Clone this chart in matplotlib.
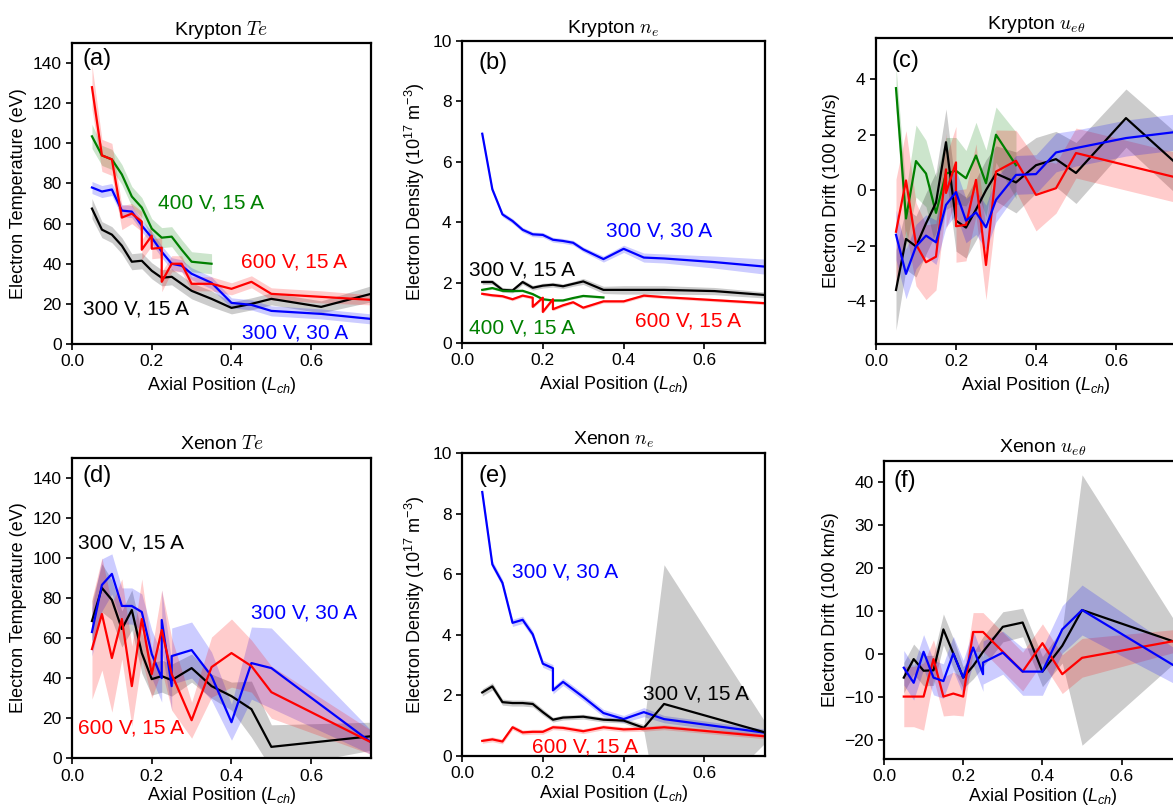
import numpy as np
import matplotlib
matplotlib.use("Agg")
import matplotlib.pyplot as plt

plt.rcParams["font.family"] = ["Liberation Sans", "DejaVu Sans"]
plt.rcParams["mathtext.fontset"] = "custom"
plt.rcParams["mathtext.rm"] = "Liberation Sans"
plt.rcParams["mathtext.it"] = "Liberation Sans:italic"
plt.rcParams["mathtext.bf"] = "Liberation Sans:bold"

# ── Data ─────────────────────────────────────────────────────────────────────
X17 = [0.05, 0.075, 0.1, 0.125, 0.15, 0.175, 0.2, 0.225, 0.25, 0.275, 0.3,
       0.35, 0.4, 0.45, 0.5, 0.625, 0.75]
X12 = [0.05, 0.075, 0.1, 0.125, 0.15, 0.175, 0.2, 0.225, 0.25, 0.275, 0.3, 0.35]
X15 = [0.05, 0.075, 0.1, 0.125, 0.15, 0.175, 0.2, 0.225, 0.25, 0.3, 0.35,
       0.4, 0.45, 0.5, 0.75]

# Krypton Te (a)
kr_te_k     = [67.5, 57, 54.5, 49, 41, 41.5, 36.5, 33, 33.5, 30, 26.5, 22.5, 18, 20, 22.5, 18.5, 25]
kr_te_k_err = [5, 4, 4, 4, 4, 4, 4, 4, 4, 4, 4, 4, 3, 3, 3, 3, 4]
kr_te_b     = [78, 76, 77, 66.5, 66, 59, 53, 46, 40, 39, 35, 30.5, 20.5, 19.5, 16.5, 15, 12.5]
kr_te_b_err = [3, 3, 3, 3, 3, 3, 3, 3, 3, 3, 3, 3, 2.5, 2.5, 2.5, 2.5, 2.5]
kr_te_r_x   = [0.05, 0.075, 0.1, 0.125, 0.15, 0.175, 0.175, 0.2, 0.2, 0.225, 0.225,
               0.25, 0.275, 0.3, 0.35, 0.4, 0.45, 0.5, 0.625, 0.75]
kr_te_r     = [128, 94, 92, 63, 65, 61, 47, 54, 47.5, 48, 31, 40, 40, 30, 30, 27.5, 31, 25, 23.5, 22]
kr_te_r_err = [11, 8, 8, 6, 5, 5, 5, 5, 5, 5, 5, 4, 4, 3.5, 3.5, 3, 3, 3, 3, 2.5]
kr_te_g     = [103.5, 94, 92, 84.5, 73.5, 68, 57.5, 53, 53.5, 47, 41, 40]
kr_te_g_err = [6, 5, 5, 5, 5, 5, 5, 5, 5, 5, 5, 5]

# Krypton ne (b)
kr_ne_b     = [6.93, 5.09, 4.26, 4.04, 3.75, 3.6, 3.58, 3.42, 3.38, 3.32, 3.1, 2.78, 3.12, 2.83, 2.8, 2.68, 2.53]
kr_ne_b_err = [0.08, 0.08, 0.08, 0.08, 0.08, 0.08, 0.08, 0.08, 0.08, 0.08, 0.08, 0.1, 0.12, 0.15, 0.15, 0.2, 0.25]
kr_ne_k     = [2.02, 2.02, 1.76, 1.74, 2.02, 1.83, 1.9, 1.93, 1.88, 1.96, 2.04, 1.76, 1.76, 1.76, 1.76, 1.72, 1.59]
kr_ne_k_err = [0.08, 0.08, 0.08, 0.08, 0.08, 0.08, 0.08, 0.08, 0.08, 0.08, 0.1, 0.12, 0.14, 0.14, 0.14, 0.12, 0.1]
kr_ne_g     = [1.76, 1.82, 1.73, 1.72, 1.73, 1.62, 1.45, 1.41, 1.41, 1.49, 1.56, 1.51]
kr_ne_g_err = [0.04] * 12
kr_ne_r     = [1.63, 1.58, 1.55, 1.45, 1.57, 1.5, 1.2, 1.5, 1.03, 1.45, 1.12, 1.25, 1.35, 1.17, 1.38, 1.38, 1.57, 1.52, 1.42, 1.32]
kr_ne_r_err = [0.05] * 20

# Krypton u_etheta (c)
kr_u_g      = [3.68, -1.02, 1.05, 0.6, -0.82, 0.6, 0.7, 0.43, 1.25, 0.25, 2.0, 0.9]
kr_u_g_err  = [0.8, 1.0, 1.3, 1.2, 1.3, 1.3, 1.2, 1.0, 1.2, 1.2, 1.0, 1.2]
kr_u_k      = [-3.6, -1.76, -2.03, -1.2, -0.45, 1.73, -1.1, -1.35, -0.7, 0.0, 0.6, 0.28, 0.9, 1.12, 0.62, 2.6, 0.97]
kr_u_k_err  = [1.45, 1.1, 1.1, 1.1, 1.1, 1.2, 1.1, 1.1, 1.1, 1.1, 1.0, 1.1, 1.0, 1.0, 1.1, 1.05, 1.1]
kr_u_r_x    = [0.05, 0.075, 0.1, 0.125, 0.15, 0.175, 0.175, 0.2, 0.2, 0.225, 0.25,
               0.275, 0.3, 0.35, 0.4, 0.45, 0.5, 0.625, 0.75]
kr_u_r      = [-1.5, 0.35, -1.95, -2.6, -2.4, 0.75, -0.1, 1.0, -1.3, -1.25, 0.37, -2.7, 0.67, 1.06, -0.17, 0.07, 1.34, 0.9, 0.46]
kr_u_r_err  = [1.9, 1.8, 1.5, 1.35, 1.2, 1.3, 1.3, 1.3, 1.3, 1.3, 1.3, 1.25, 1.5, 1.1, 1.3, 0.9, 0.9, 0.9, 0.9]
kr_u_b      = [-1.61, -3.02, -2.03, -1.64, -1.88, -0.53, -0.07, -1.1, -0.8, -1.34, -0.35, 0.55, 0.58, 1.36, 1.52, 1.88, 2.1]
kr_u_b_err  = [0.9, 0.9, 0.8, 0.75, 0.8, 0.8, 0.8, 0.8, 0.8, 0.8, 0.8, 0.7, 0.7, 0.7, 0.65, 0.65, 0.65]

# Xenon Te (d)
xe_te_k     = [68.5, 85, 79, 64.5, 74, 52.5, 39.5, 41, 39, 45, 36, 31, 24.5, 5.7, 11]
xe_te_k_err = [10, 12, 10, 9, 10, 10, 8, 8, 8, 7, 6, 7, 14, 11, 7]
xe_te_b_x   = [0.05, 0.075, 0.1, 0.125, 0.15, 0.175, 0.2, 0.225, 0.225, 0.25, 0.25,
               0.3, 0.35, 0.4, 0.45, 0.5, 0.75]
xe_te_b     = [63, 86.5, 92, 76, 76, 73, 52, 40, 69, 36, 51, 54, 41, 18, 47.5, 45, 8]
xe_te_b_err = [12, 13, 10, 9, 9, 9, 12, 12, 15, 12, 14, 14, 12, 9, 18, 20, 6]
xe_te_r     = [54.5, 72, 50, 69.5, 36, 69.5, 42, 64, 42, 19, 45.5, 52.5, 46, 33, 8]
xe_te_r_err = [25, 28, 27, 20, 20, 20, 12, 20, 18, 9, 15, 17, 13, 13, 6]

# Xenon ne (e)
xe_ne_b_x   = [0.05, 0.075, 0.1, 0.125, 0.15, 0.175, 0.2, 0.225, 0.225, 0.25, 0.275,
               0.3, 0.35, 0.4, 0.45, 0.5, 0.75]
xe_ne_b     = [8.72, 6.33, 5.72, 4.4, 4.5, 4.02, 3.05, 2.9, 2.17, 2.45, 2.2, 1.95, 1.42, 1.22, 1.45, 1.22, 0.77]
xe_ne_b_err = [0.12] * 14 + [0.15, 0.12, 0.12]
xe_ne_k     = [2.1, 2.3, 1.78, 1.75, 1.75, 1.72, 1.45, 1.2, 1.27, 1.3, 1.2, 1.17, 0.93, 1.72, 0.78]
xe_ne_k_err = [0.12, 0.12, 0.1, 0.1, 0.1, 0.1, 0.1, 0.08, 0.08, 0.08, 0.08, 0.08, 0.11, 4.6, 0.35]
xe_ne_r     = [0.5, 0.55, 0.48, 0.95, 0.78, 0.8, 0.8, 0.95, 0.93, 0.82, 0.95, 0.88, 0.9, 0.95, 0.65]
xe_ne_r_err = [0.08] * 15

# Xenon u_etheta (f)
xe_u_k      = [-5.5, -1.2, -3.9, -3.8, 5.7, 0.1, -5.5, -2.8, 0.5, 6.3, 7.3, -4.1, 1.9, 10.2, 2.3]
xe_u_k_err  = [3.5, 3.5, 3.5, 3.5, 3.6, 3.5, 2.5, 3, 3.5, 3.5, 3.3, 3.5, 4, 31.4, 3]
xe_u_b_x    = [0.05, 0.075, 0.1, 0.125, 0.15, 0.175, 0.2, 0.225, 0.25, 0.25,
               0.3, 0.35, 0.4, 0.45, 0.5, 0.75]
xe_u_b      = [-3.2, -6.7, 0.5, -5.5, -6.3, 0.1, -5.5, 1.5, -4.7, -2.0, 0.3, -4.1, -4.1, 5.7, 10.2, -3.7]
xe_u_b_err  = [4, 4, 4, 4, 4, 4, 4, 4, 4, 5, 5, 5.5, 5.5, 5.5, 5.8, 4]
xe_u_r      = [-9.9, -9.9, -9.9, -1.2, -9.9, -9.2, -9.9, 5.1, 5.1, 0.5, -4.1, 2.5, -4.7, -0.9, 3.3]
xe_u_r_err  = [7, 7, 7.8, 4.5, 4.5, 5, 4.5, 4.5, 4.5, 4.5, 4.5, 4.5, 4.5, 4.5, 2.5]

LBL_FS  = 13
TICK_FS = 12.5
ANN_FS  = 15


def band(ax, x, y, err, color):
    x = np.asarray(x); y = np.asarray(y); err = np.asarray(err)
    ax.fill_between(x, y - err, y + err, color=color, alpha=0.2, linewidth=0)
    ax.plot(x, y, color=color, lw=1.6)


def style(ax, title, ylabel, tag, tag_x, tag_y, xpad=4.0):
    ax.set_title(title, fontsize=14, math_fontfamily="cm")
    ax.set_xlabel(r"Axial Position ($L_{ch}$)", fontsize=LBL_FS, labelpad=xpad)
    ax.set_ylabel(ylabel, fontsize=LBL_FS)
    ax.set_xticks([0.0, 0.2, 0.4, 0.6])
    ax.tick_params(labelsize=TICK_FS, width=1.2, length=4)
    for s in ax.spines.values():
        s.set_linewidth(1.6)
    ax.text(tag_x, tag_y, tag, transform=ax.transAxes, fontsize=17,
            ha="left", va="top")


fig = plt.figure(figsize=(11.73, 8.06), dpi=100)

# ── (a) Krypton Te ───────────────────────────────────────────────────────────
ax = fig.add_axes([0.0614, 0.5732, 0.2549, 0.3734])
band(ax, X17, kr_te_k, kr_te_k_err, "k")
band(ax, X17, kr_te_b, kr_te_b_err, "b")
band(ax, X12, kr_te_g, kr_te_g_err, "g")
band(ax, kr_te_r_x, kr_te_r, kr_te_r_err, "r")
ax.set_xlim(0, 0.75); ax.set_ylim(0, 150)
ax.set_yticks(range(0, 141, 20))
ax.text(0.216, 67.3, "400 V, 15 A", color="g", fontsize=ANN_FS)
ax.text(0.425, 38, "600 V, 15 A", color="r", fontsize=ANN_FS)
ax.text(0.028, 14.8, "300 V, 15 A", color="k", fontsize=ANN_FS)
ax.text(0.427, 2.8, "300 V, 30 A", color="b", fontsize=ANN_FS)
style(ax, r"Krypton $Te$", "Electron Temperature (eV)", "(a)", 0.035, 0.985)

# ── (b) Krypton ne ───────────────────────────────────────────────────────────
ax = fig.add_axes([0.3939, 0.5744, 0.2583, 0.3747])
band(ax, X17, kr_ne_b, kr_ne_b_err, "b")
band(ax, X17, kr_ne_k, kr_ne_k_err, "k")
band(ax, X12, kr_ne_g, kr_ne_g_err, "g")
band(ax, kr_te_r_x, kr_ne_r, kr_ne_r_err, "r")
ax.set_xlim(0, 0.75); ax.set_ylim(0, 10)
ax.set_yticks(range(0, 11, 2))
ax.text(0.357, 3.54, "300 V, 30 A", color="b", fontsize=ANN_FS)
ax.text(0.018, 2.22, "300 V, 15 A", color="k", fontsize=ANN_FS)
ax.text(0.0165, 0.32, "400 V, 15 A", color="g", fontsize=ANN_FS)
ax.text(0.4275, 0.56, "600 V, 15 A", color="r", fontsize=ANN_FS)
style(ax, r"Krypton $n_e$", r"Electron Density (10$^{17}$ m$^{-3}$)", "(b)", 0.055, 0.965)

# ── (c) Krypton u_etheta ─────────────────────────────────────────────────────
ax = fig.add_axes([0.7468, 0.5732, 0.2728, 0.3800])
band(ax, X12, kr_u_g, kr_u_g_err, "g")
band(ax, X17, kr_u_k, kr_u_k_err, "k")
band(ax, kr_u_r_x, kr_u_r, kr_u_r_err, "r")
band(ax, X17, kr_u_b, kr_u_b_err, "b")
ax.set_xlim(0, 0.8); ax.set_ylim(-5.55, 5.5)
ax.set_yticks([-4, -2, 0, 2, 4])
style(ax, r"Krypton $u_{e\theta}$", "Electron Drift (100 km/s)", "(c)", 0.05, 0.96)

# ── (d) Xenon Te ─────────────────────────────────────────────────────────────
ax = fig.add_axes([0.0614, 0.0592, 0.2549, 0.3730])
band(ax, X15, xe_te_k, xe_te_k_err, "k")
band(ax, xe_te_b_x, xe_te_b, xe_te_b_err, "b")
band(ax, X15, xe_te_r, xe_te_r_err, "r")
ax.set_xlim(0, 0.75); ax.set_ylim(0, 150)
ax.set_yticks(range(0, 141, 20))
ax.text(0.015, 104.5, "300 V, 15 A", color="k", fontsize=ANN_FS)
ax.text(0.449, 69.5, "300 V, 30 A", color="b", fontsize=ANN_FS)
ax.text(0.015, 12.3, "600 V, 15 A", color="r", fontsize=ANN_FS)
style(ax, r"Xenon $Te$", "Electron Temperature (eV)", "(d)", 0.035, 0.975, xpad=1.0)

# ── (e) Xenon ne ─────────────────────────────────────────────────────────────
ax = fig.add_axes([0.3939, 0.0620, 0.2583, 0.3756])
band(ax, xe_ne_b_x, xe_ne_b, xe_ne_b_err, "b")
band(ax, X15, xe_ne_k, xe_ne_k_err, "k")
band(ax, X15, xe_ne_r, xe_ne_r_err, "r")
ax.set_xlim(0, 0.75); ax.set_ylim(0, 10)
ax.set_yticks(range(0, 11, 2))
ax.text(0.124, 5.91, "300 V, 30 A", color="b", fontsize=ANN_FS)
ax.text(0.448, 1.86, "300 V, 15 A", color="k", fontsize=ANN_FS)
ax.text(0.173, 0.12, "600 V, 15 A", color="r", fontsize=ANN_FS)
style(ax, r"Xenon $n_e$", r"Electron Density (10$^{17}$ m$^{-3}$)", "(e)", 0.055, 0.96, xpad=1.0)

# ── (f) Xenon u_etheta ───────────────────────────────────────────────────────
ax = fig.add_axes([0.7536, 0.0583, 0.2702, 0.3697])
band(ax, X15, xe_u_k, xe_u_k_err, "k")
band(ax, X15, xe_u_r, xe_u_r_err, "r")
band(ax, xe_u_b_x, xe_u_b, xe_u_b_err, "b")
ax.set_xlim(0, 0.8); ax.set_ylim(-24.4, 44.8)
ax.set_yticks([-20, -10, 0, 10, 20, 30, 40])
style(ax, r"Xenon $u_{e\theta}$", "Electron Drift (100 km/s)", "(f)", 0.03, 0.97, xpad=1.0)

fig.savefig("out.png", dpi=100)
